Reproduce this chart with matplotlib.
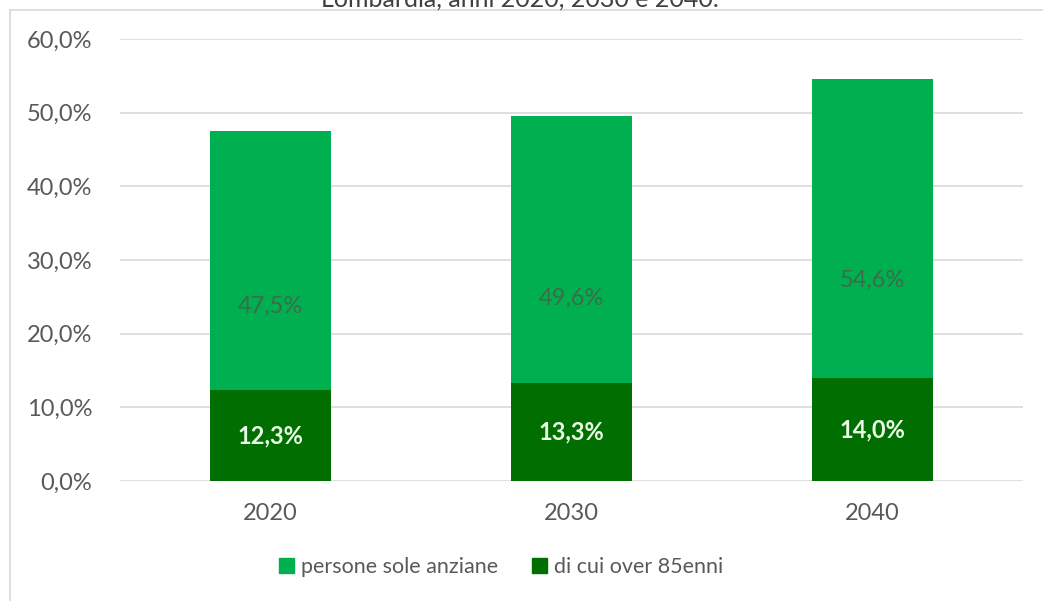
import matplotlib.pyplot as plt
import numpy as np
from matplotlib.lines import Line2D
from matplotlib.patches import Patch

plt.rcParams['font.family'] = ['Lato', 'DejaVu Sans']

anni = ['2020', '2030', '2040']
sole_anziane = [47.5, 49.6, 54.6]
over85 = [12.3, 13.3, 14.0]
yticks = [0, 10, 20, 30, 40, 50, 60]

verde = '#00B050'
verde_scuro = '#006E00'

fig = plt.figure(figsize=(10.43, 6.01), dpi=100)
ax = fig.add_axes([120/1043, 1 - 481/601, 903/1043, 442/601])

x = np.arange(len(anni))
ax.bar(x, sole_anziane, width=0.4, color=verde, zorder=2)
ax.bar(x, over85, width=0.4, color=verde_scuro, zorder=3)

for xi, v in zip(x, sole_anziane):
    ax.text(xi, v / 2, ('%.1f%%' % v).replace('.', ','), ha='center', va='center',
            fontsize=17, color='#3E6B4A', zorder=4)
for xi, v in zip(x, over85):
    ax.text(xi, v / 2, ('%.1f%%' % v).replace('.', ','), ha='center', va='center',
            fontsize=17, color='#EAFBE6', fontweight='bold', zorder=4)

ax.set_xlim(-0.5, 2.5)
ax.set_ylim(0, 60)
ax.set_yticks(yticks)
ax.set_yticklabels([('%.1f%%' % t).replace('.', ',') for t in yticks])
ax.set_xticks(x)
ax.set_xticklabels(anni)
ax.tick_params(axis='y', length=0, pad=20, labelsize=17, labelcolor='#595959')
ax.tick_params(axis='x', length=0, pad=16, labelsize=17, labelcolor='#595959')
ax.grid(axis='y', color='#D9D9D9', linewidth=1.2, zorder=0)
for s in ax.spines.values():
    s.set_visible(False)

handles = [Patch(color=verde, label='persone sole anziane'),
           Patch(color=verde_scuro, label='di cui over 85enni')]
fig.legend(handles=handles, loc='center', bbox_to_anchor=(501/1043, 1 - 567/601),
           ncol=2, frameon=False, fontsize=15.5, handlelength=0.7, handleheight=0.7,
           handletextpad=0.3, columnspacing=1.6, labelcolor='#595959')

# bordo del grafico (ritagliato)
fig.add_artist(Line2D([10/1043, 1], [1 - 10/601, 1 - 10/601], color='#D9D9D9', linewidth=1.2))
fig.add_artist(Line2D([10/1043, 10/1043], [0, 1 - 10/601], color='#D9D9D9', linewidth=1.2))

# titolo tagliato in alto, come nell'originale
fig.text(520/1043, 1 - 7/601, 'Lombardia, anni 2020, 2030 e 2040.', ha='center',
         va='baseline', fontsize=18, color='#404040')

fig.savefig('out.png', dpi=100)
